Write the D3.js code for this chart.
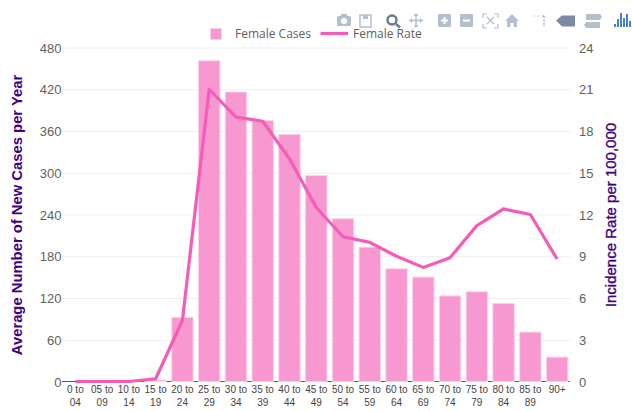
<!DOCTYPE html>
<html><head><meta charset="utf-8">
<script src="https://cdn.jsdelivr.net/npm/d3@7/dist/d3.min.js"></script>
<style>html,body{margin:0;padding:0;background:#fff}svg{display:block}text{font-family:"Liberation Sans",Arial,sans-serif}</style>
</head><body><div id="c"></div>
<script>
const categories=["0 to|04","05 to|09","10 to|14","15 to|19","20 to|24","25 to|29","30 to|34","35 to|39","40 to|44","45 to|49","50 to|54","55 to|59","60 to|64","65 to|69","70 to|74","75 to|79","80 to|84","85 to|89","90+"];
const femaleCases=[0,0,0,2,92,461,416,375,355,296,234,193,162,150,123,129,112,71,35];
const femaleRate=[0,0,0,0.2,4.4,21,19,18.7,16,12.5,10.4,10,9,8.2,8.9,11.2,12.4,12,8.8];
const leftTicks=[0,60,120,180,240,300,360,420,480];
const rightTicks=[0,3,6,9,12,15,18,21,24];
const W=632,H=411,L=62,R=570.5,T=47.5,B=381.5;
const svg=d3.select("#c").append("svg").attr("width",W).attr("height",H);
const x=d3.scaleBand().domain(categories).range([L,R]).paddingInner(0.2).paddingOuter(0.1);
const y=d3.scaleLinear().domain([0,480]).range([B,T]);
const y2=d3.scaleLinear().domain([0,24]).range([B,T]);
const grey="#5f5f5f";
svg.append("g").selectAll("line").data(leftTicks.slice(1)).join("line")
 .attr("x1",L).attr("x2",R).attr("y1",d=>y(d)+.5).attr("y2",d=>y(d)+.5).attr("stroke","#eceef1");
svg.append("line").attr("x1",L).attr("x2",R-.5).attr("y1",B).attr("y2",B).attr("stroke","#555").attr("stroke-width",1);
svg.append("g").selectAll("rect").data(categories).join("rect")
 .attr("x",d=>x(d)).attr("width",x.bandwidth())
 .attr("y",(d,i)=>y(femaleCases[i])).attr("height",(d,i)=>B-y(femaleCases[i]))
 .attr("fill","#f799d0").attr("stroke","#fbd0e8").attr("stroke-width",1);
const line=d3.line().x((d,i)=>x(categories[i])+x.bandwidth()/2).y(d=>y2(d));
svg.append("path").datum(femaleRate).attr("d",line).attr("fill","none").attr("stroke","#f55cb8").attr("stroke-width",3.2).attr("stroke-linejoin","round");
const lt=svg.append("g").attr("font-size",13).attr("fill",grey);
lt.selectAll("text.l").data(leftTicks).join("text").attr("class","l").attr("x",L-.5).attr("text-anchor","end").attr("y",d=>y(d)+5).text(d=>d);
lt.selectAll("text.r").data(rightTicks).join("text").attr("class","r").attr("x",579).attr("y",d=>y2(d)+5).text(d=>d);
const xt=svg.append("g").attr("font-size",10).attr("fill","#444").attr("text-anchor","middle");
categories.forEach(c=>{const p=c.split("|"),cx=x(c)+x.bandwidth()/2;
 p.forEach((s,i)=>xt.append("text").attr("x",cx).attr("y",393+i*13).text(s));});
const titleColor="#3f0080";
svg.append("text").attr("transform",`translate(22,215) rotate(-90)`).attr("text-anchor","middle").attr("font-size",14.8).attr("font-weight",700).attr("fill",titleColor).text("Average Number of New Cases per Year");
svg.append("text").attr("transform",`translate(616,215) rotate(-90)`).attr("text-anchor","middle").attr("font-size",15).attr("font-weight",400).attr("fill",titleColor).attr("stroke",titleColor).attr("stroke-width",.35).text("Incidence Rate per 100,000");
// legend
svg.append("rect").attr("x",210.500).attr("y",28.500).attr("width",11).attr("height",11).attr("fill","#f799d0").attr("stroke","#fbd0e8");
svg.append("text").attr("x",235).attr("y",38).attr("font-size",12).attr("fill",grey).attr("style","font-family:'Open Sans'").text("Female Cases");
svg.append("line").attr("x1",320.500).attr("x2",348).attr("y1",33.500).attr("y2",33.500).attr("stroke","#f55cb8").attr("stroke-width",3.2);
svg.append("text").attr("x",353).attr("y",38).attr("font-size",12).attr("fill",grey).attr("style","font-family:'Open Sans'").text("Female Rate");
// modebar icons
const ic="#b4bfd0",m=svg.append("g").attr("fill",ic);
m.append("rect").attr("x",337).attr("y",16).attr("width",14).attr("height",10).attr("rx",1.500);
m.append("rect").attr("x",341).attr("y",14).attr("width",6).attr("height",3);
m.append("circle").attr("cx",344).attr("cy",21).attr("r",3).attr("fill","#fff");
m.append("rect").attr("x",360).attr("y",15).attr("width",11).attr("height",12).attr("fill","none").attr("stroke",ic).attr("stroke-width",1.500);
m.append("rect").attr("x",363).attr("y",15).attr("width",5).attr("height",4);
m.append("circle").attr("cx",392).attr("cy",20).attr("r",4.500).attr("fill","none").attr("stroke","#6b7a94").attr("stroke-width",2.500);
m.append("line").attr("x1",396).attr("y1",24).attr("x2",400).attr("y2",27.500).attr("stroke","#6b7a94").attr("stroke-width",2.500);
m.append("path").attr("d","M416 14v13M409.500 20.500h13").attr("stroke",ic).attr("stroke-width",1.500);
m.append("path").attr("d","M416 13l2.500 3h-5zM416 28l2.500-3h-5zM409 20.500l3-2.500v5zM423 20.500l-3-2.500v5z");
m.append("rect").attr("x",438).attr("y",14).attr("width",13).attr("height",13).attr("rx",1);
m.append("path").attr("d","M444.500 17v7M441 20.500h7").attr("stroke","#fff").attr("stroke-width",2);
m.append("rect").attr("x",460).attr("y",14).attr("width",13).attr("height",13).attr("rx",1);
m.append("path").attr("d","M463 20.500h7").attr("stroke","#fff").attr("stroke-width",2);
m.append("path").attr("d","M483 18v-4h4M494 14h4v4M498 24v4h-4M487 28h-4v-4M487 17l7 7M494 17l-7 7").attr("fill","none").attr("stroke",ic).attr("stroke-width",1.200);
m.append("path").attr("d","M505 21l7-7 7 7h-2v6h-3.500v-4h-3v4H507v-6z");
m.append("path").attr("d","M534 16h1M538 16h1M542 16h4M544 16v11").attr("fill","none").attr("stroke",ic).attr("stroke-width",1.600).attr("stroke-dasharray","2 1.500");
m.append("path").attr("d","M556 20.500l6-5h13v11h-13z").attr("fill","#7d8aa6");
m.append("path").attr("d","M586 14h14l2 3-2 3h-14zM586 22h14v6h-14l-2-3z");
const lg=m.append("g").attr("fill","#4a7fd4");
[[614,24,3],[617,19,8],[620,13,14],[623,18,9],[626,14,13],[629,21,6]].forEach(b=>lg.append("rect").attr("x",b[0]).attr("y",b[1]).attr("width",2).attr("height",b[2]));
</script></body></html>
